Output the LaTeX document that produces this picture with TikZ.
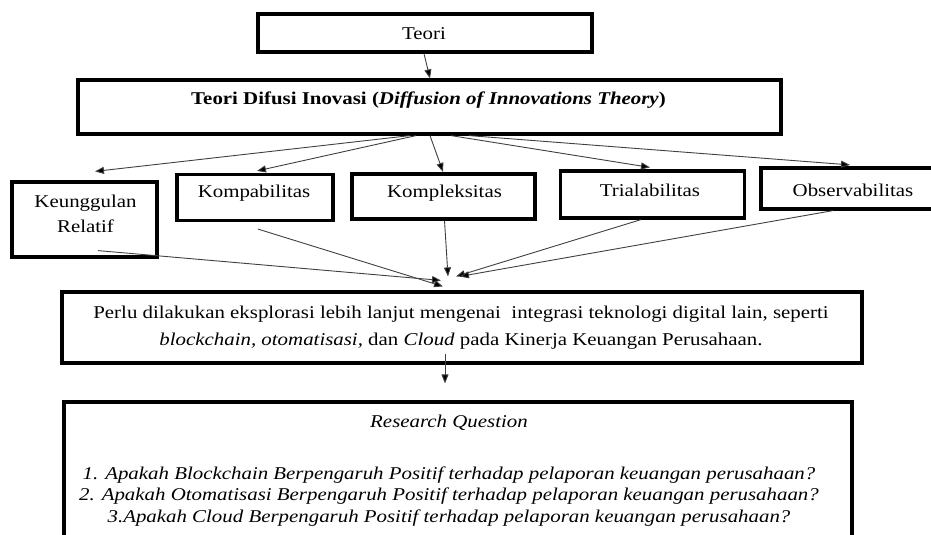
\documentclass[tikz,border=0pt]{standalone}
\usepackage{fontspec}
\setmainfont{Liberation Serif}[FakeStretch=1.16]
\usetikzlibrary{arrows.meta}
\begin{document}
\begin{tikzpicture}[x=1pt,y=-1pt,
  box/.style={draw=black, line width=3.2pt, rectangle, inner sep=0pt},
  lbl/.style={font=\fontsize{18}{22}\selectfont, align=center, inner sep=0pt},
  arr/.style={draw=black!75, line width=0.9pt, -{Triangle[length=9pt,width=7pt,fill=black]}},
]
\useasboundingbox (0,0) rectangle (931,535);
% boxes
\node[box, minimum width=334pt, minimum height=38pt] (teori) at (425,33) {};
\node[lbl] (teorit) at (424,34) {Teori};
\node[box, minimum width=703pt, minimum height=54pt] (dif) at (429.5,107) {};
\node[lbl] (dift) at (428.5,100) {\textbf{Teori Difusi Inovasi (\textit{Diffusion of Innovations Theory})}};
\node[box, minimum width=145pt, minimum height=75pt] (keu) at (84.5,219.5) {};
\node[lbl, font=\fontsize{18}{25}\selectfont] (keut) at (85.5,214) {Keunggulan\\Relatif};
\node[box, minimum width=156pt, minimum height=46pt] (kom) at (255,197.5) {};
\node[lbl] (komt) at (254,193) {Kompabilitas};
\node[box, minimum width=183pt, minimum height=45pt] (kpl) at (443.5,196.5) {};
\node[lbl] (kplt) at (444.5,193) {Kompleksitas};
\node[box, minimum width=184pt, minimum height=47pt] (tri) at (652.5,194.5) {};
\node[lbl] (trit) at (650,190) {Trialabilitas};
\node[box, minimum width=180pt, minimum height=41pt] (obs) at (851,188.5) {};
\node[lbl] (obst) at (853,190) {Observabilitas};
\node[box, minimum width=800pt, minimum height=71pt] (perlu) at (462,327.5) {};
\node[lbl, font=\fontsize{18}{27}\selectfont] (perlut) at (461,327.5) {Perlu dilakukan eksplorasi lebih lanjut mengenai\ \ integrasi teknologi digital lain, seperti\\\textit{blockchain, otomatisasi,} dan \textit{Cloud} pada Kinerja Keuangan Perusahaan.};
\node[box, minimum width=788pt, minimum height=150pt] (rq) at (458,477) {};
\node[lbl] (rqh) at (449,423) {\textit{Research Question}};
\node[lbl, font=\fontsize{18}{21.5}\selectfont] (rqt) at (449,496.5) {\textit{1. Apakah Blockchain Berpengaruh Positif terhadap pelaporan keuangan perusahaan?}\\\textit{2. Apakah Otomatisasi Berpengaruh Positif terhadap pelaporan keuangan perusahaan?}\\\textit{3.Apakah Cloud Berpengaruh Positif terhadap pelaporan keuangan perusahaan?}};
% arrows
\draw[arr] ([xshift=-1pt]teori.south) -- ([xshift=0.5pt]dif.north);
\draw[arr] ([xshift=-19.5pt]dif.south) -- ([xshift=10.5pt,yshift=9pt]keu.north);
\draw[arr] ([xshift=-13.5pt]dif.south) -- ([xshift=2pt,yshift=2pt]kom.north);
\draw[arr] ([xshift=0.5pt]dif.south) -- ([xshift=-0.5pt,yshift=0.5pt]kpl.north);
\draw[arr] ([xshift=21.5pt]dif.south) -- ([xshift=-2.5pt,yshift=2pt]tri.north);
\draw[arr] ([xshift=39.5pt]dif.south) -- ([xshift=-1pt,yshift=1.5pt]obs.north);
\draw[arr] ([xshift=13.5pt,yshift=8pt]keu.south) -- ([xshift=-21pt,yshift=10pt]perlu.north);
\draw[arr] ([xshift=3pt,yshift=-7pt]kom.south) -- ([xshift=-19pt,yshift=4pt]perlu.north);
\draw[arr] ([xshift=1pt]kpl.south) -- ([xshift=-14pt,yshift=14pt]perlu.north);
\draw[arr] ([xshift=-11.5pt]tri.south) -- ([xshift=-6pt,yshift=14pt]perlu.north);
\draw[arr] ([xshift=-18pt]obs.south) -- ([xshift=-2pt,yshift=14pt]perlu.north);
\draw[arr] ([xshift=-17pt,yshift=11pt]perlu.south) -- ([xshift=-13pt,yshift=17pt]rq.north);
\end{tikzpicture}
\end{document}
